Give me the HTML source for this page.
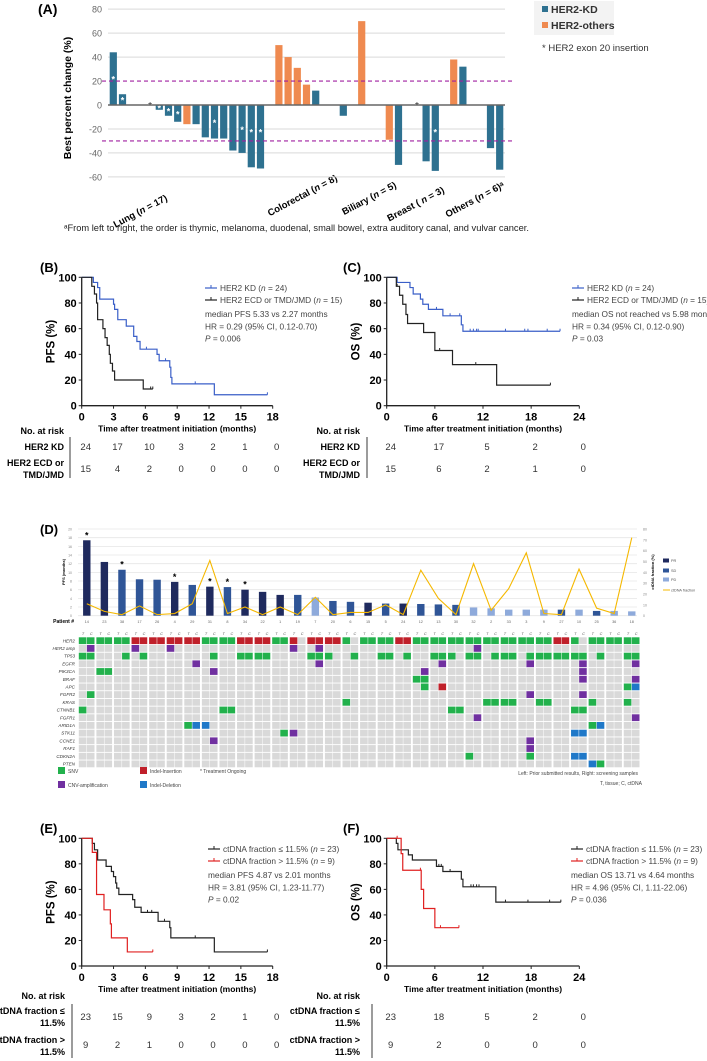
<!DOCTYPE html>
<html><head><meta charset="utf-8"><style>
body{margin:0;background:#fff}
svg{display:block;font-family:"Liberation Sans",sans-serif}
</style></head><body>
<svg id="root" width="707" height="1061" viewBox="0 0 707 1061" xmlns="http://www.w3.org/2000/svg">
<text x="38" y="14" font-size="14" font-weight="bold">(A)</text>
<text transform="translate(71,98) rotate(-90)" text-anchor="middle" font-size="10.5" font-weight="bold">Best percent change (%)</text>
<g>
<rect x="534" y="1" width="80" height="34" fill="#f3f3f3"/>
<rect x="542" y="6" width="6" height="6" fill="#2e7190"/>
<text x="551" y="13" font-size="10.5" font-weight="bold" fill="#333">HER2-KD</text>
<rect x="542" y="22" width="6" height="6" fill="#ef8a50"/>
<text x="551" y="29" font-size="10.5" font-weight="bold" fill="#333">HER2-others</text>
<text x="542" y="51" font-size="9.5" fill="#333">* HER2 exon 20 insertion</text>
</g>
<g font-size="9.5" font-weight="bold" text-anchor="end">
<text transform="translate(168,200) rotate(-28)">Lung  (<tspan font-style="italic">n</tspan> = 17)</text>
<text transform="translate(338,180) rotate(-28)">Colorectal  (<tspan font-style="italic">n</tspan> = 8)</text>
<text transform="translate(397,187) rotate(-28)">Biliary (<tspan font-style="italic">n</tspan> = 5)</text>
<text transform="translate(445,192) rotate(-28)">Breast ( <tspan font-style="italic">n</tspan> = 3)</text>
<text transform="translate(505,187) rotate(-28)">Others (<tspan font-style="italic">n</tspan> = 6)ᵃ</text>
</g>
<text x="64" y="231" font-size="9.3" fill="#222">ᵃFrom left to right, the order is thymic, melanoma, duodenal, small bowel, extra auditory canal, and vulvar cancer.</text>

<text x="40" y="272" font-size="13" font-weight="bold">(B)</text>
<text x="343" y="272" font-size="13" font-weight="bold">(C)</text>
<text x="40" y="534" font-size="13" font-weight="bold">(D)</text>
<text x="40" y="833" font-size="13" font-weight="bold">(E)</text>
<text x="343" y="833" font-size="13" font-weight="bold">(F)</text>
<g id="dyn"></g>
</svg>
<script>
// ---------- Panel A data ----------
const aIndex = [0,1,4,5,6,7,8,9,10,11,12,13,14,15,16,18,19,20,21,22,25,27,30,31,33,34,35,37,38,41,42];
const aValues = [44,9,0,-4,-9,-14,-16,-16,-27,-28,-28,-38,-40,-52,-53,50,40,31,17,12,-9,70,-29,-50,0,-47,-55,38,32,-36,-54];
const aType = ['kd','kd','ast','kd','kd','kd','ot','kd','kd','kd','kd','kd','kd','kd','kd','ot','ot','ot','ot','kd','kd','ot','ot','kd','ast','kd','kd','ot','kd','kd','kd'];
const aStar = [1,1,0,1,1,1,0,0,0,1,0,0,1,1,1,0,0,0,0,0,0,0,0,0,0,0,1,0,0,0,0];
const aTicks = [80,60,40,20,0,-20,-40,-60];
// ---------- Panel D data ----------
const dPatients = [14,23,38,17,26,4,29,31,8,34,22,1,19,7,20,6,15,5,24,12,13,30,32,2,33,3,9,27,10,25,36,18];
const dPFS = [17.4,12.4,10.6,8.4,8.3,7.8,7.1,6.7,6.6,6.0,5.5,4.8,4.8,4.2,3.4,3.2,3.0,2.8,2.8,2.7,2.6,2.5,1.9,1.7,1.4,1.4,1.4,1.4,1.4,1.1,1.1,1.0];
const dResp = ['PR','PR','SD','SD','SD','PR','SD','PR','SD','PR','PR','PR','SD','PD','SD','SD','PR','SD','PR','SD','SD','SD','PD','PD','PD','PD','PD','SD','PD','SD','PD','PD'];
const dOngoing = [1,0,1,0,0,1,0,1,1,1,0,0,0,0,0,0,0,0,0,0,0,0,0,0,0,0,0,0,0,0,0,0];
const dCtDNA = [11,4,1,9,1,2,11,51,2,8,1,8,1,17,1,3,3,10,1,42,16,1,48,5,25,58,2,1,43,7,2,72];
const dLeftTicks = [0,2,4,6,8,10,12,14,16,18,20];
const dRightTicks = [0,10,20,30,40,50,60,70,80];
const genes = ['HER2','HER2 amp','TP53','EGFR','PIK3CA','BRAF','APC','FGFR2','KRAS','CTNNB1','FGFR1','ARID1A','STK11','CCNE1','RAF1','CDKN2A','PTEN'];
const her2Row = 'SS SS SS II II II II SS SS II II SS I- II II S- SS SS II SS SS SS SS SS SS SS SS II S- SS SS SS';
const mutations = [
 [],
 ['1A','6A','10A','24A','27A','45A'],
 ['0S','1S','5S','7S','15S','18S','19S','20S','21S','26S','27S','28S','31S','34S','35S','37S','40S','41S','42S','44S','45S','47S','48S','49S','51S','52S','53S','54S','55S','56S','57S','59S','62S','63S'],
 ['13A','27A','41A','51A','57A','63A'],
 ['2S','3S','15A','39A','57A'],
 ['38S','39S','57A','63A'],
 ['39S','41I','62S','63D'],
 ['1S','51A','57A'],
 ['30S','46S','47S','48S','49S','52S','53S','58S','62S'],
 ['0S','16S','17S','42S','43S','56S','57S'],
 ['45A','63A'],
 ['12S','13D','14D','58S','59D'],
 ['23S','24A','56D','57D'],
 ['15A','51A'],
 ['51A'],
 ['44S','51S','56D','57D'],
 ['58D','59S']
];
// ---------- KM data ----------
const bKdT=[1.1,1.5,1.7,3.0,3.1,3.4,4.2,4.9,5.2,5.5,7.1,7.3,8.3,8.4,8.5,12.5];
const bKdS=[96,92,83,79,75,67,62,54,50,44,40,35,30,22,17,8.5];
const bKdC=[6.1,7.9,10.7,17.5];
const bEcdT=[0.95,1.2,1.4,1.5,2.0,2.2,2.4,2.6,2.7,2.9,3.1,5.8];
const bEcdS=[93,87,80,67,60,53,47,40,33,27,20,13];
const bEcdC=[6.5,6.7];
const cKdT=[1.3,2.9,3.3,4.2,4.5,5.2,7.0,9.3,9.5];
const cKdS=[96,92,87,83,79,75,70,63,58];
const cKdC=[6.2,7.9,9.1,10.4,10.8,11.2,11.4,14.8,17.2,17.6,20.0,21.6];
const cEcdT=[1.2,1.6,2.0,2.4,2.6,4.6,6.0,8.2,13.7];
const cEcdS=[93,86,79,71,64,57,43,32,16];
const cEcdC=[1.3,6.6,11.1,20.4];
const eLoT=[1.0,1.2,1.5,2.3,2.8,3.0,3.2,3.3,3.5,4.8,5.0,5.6,7.2,8.3,8.4,12.5];
const eLoS=[96,91,83,78,74,70,65,61,56,52,46,42,35,30,22,11];
const eLoC=[6.2,6.6,7.8,10.7,17.5];
const eHiT=[1.0,1.4,2.1,2.7,2.8,4.3];
const eHiS=[89,56,44,33,22,11];
const eHiC=[6.7];
const fLoT=[1.2,1.4,2.7,3.2,6.2,7.0,9.3,9.5,13.6];
const fLoS=[96,91,87,83,78,74,68,62,50];
const fLoC=[6.5,6.8,7.9,10.5,10.8,11.2,11.5,14.8,17.6,20.3,21.7];
const fHiT=[1.8,2.0,4.3,4.6,6.0];
const fHiS=[88,75,60,45,30];
const fHiC=[1.3,4.2,6.7,9.0];
const riskB=[[24,17,10,3,2,1,0],[15,4,2,0,0,0,0]];
const riskC=[[24,17,5,2,0],[15,6,2,1,0]];
const riskE=[[23,15,9,3,2,1,0],[9,2,1,0,0,0,0]];
const riskF=[[23,18,5,2,0],[9,2,0,0,0]];

const NS='http://www.w3.org/2000/svg';
const root=document.getElementById('dyn');
function mk(tag,attrs,parent){const e=document.createElementNS(NS,tag);for(const k in attrs)e.setAttribute(k,attrs[k]);(parent||root).appendChild(e);return e;}
function txt(s,attrs,parent){const e=mk('text',attrs,parent);e.textContent=s;return e;}

// ===== Panel A =====
const ax=i=>113.3+i*9.2, ay=v=>105-v*1.198;
const gA=mk('g',{});


aTicks.forEach(t=>{
  if(t!==20&&t!==0){const l=mk('line',{x1:108,x2:505,y1:ay(t),y2:ay(t),stroke:'#d9d9d9','stroke-width':1},gA);
  
  }
  const tl=txt(String(t),{x:102,y:ay(t)+3.5,'font-size':9,'text-anchor':'end',fill:'#666'},gA);
  
  
});
aIndex.forEach((idx,k)=>{
  const v=aValues[k],x=ax(idx);
  if(aType[k]==='ast'){const s=txt('*',{x:x,y:ay(0)+4,'font-size':10,'text-anchor':'middle',fill:'#222'},gA);
    
    return;}
  const r=mk('rect',{x:x-3.6,y:Math.min(ay(v),ay(0)),width:7.2,height:Math.abs(ay(v)-ay(0)),fill:aType[k]==='kd'?'#2e7190':'#ef8a50'},gA);
  
  
  if(aStar[k]){const sv=v>0?v/2:Math.max(v/2,-22);
    const s=txt('*',{x:x,y:ay(sv)+4,'font-size':9,'text-anchor':'middle',fill:'#fff','font-weight':'bold'},gA);
    
    }
});
let l0=mk('line',{x1:108,x2:505,y1:ay(0),y2:ay(0),stroke:'#666','stroke-width':1.5},gA);


[20,-30].forEach(t=>{const l=mk('line',{x1:102,x2:515,y1:ay(t),y2:ay(t),stroke:'#a020a0','stroke-width':1.2,'stroke-dasharray':'4,3'},gA);
  
  });

// ===== KM panels =====
function kmPanel(o){
  const g=mk('g',{});
  
  
  const X=t=>o.x0+t*o.xs, Y=s=>o.y0-s*o.ys;
  const ax1=mk('path',{d:`M${o.x0},${Y(100)}V${o.y0}H${X(o.tmax)}`,fill:'none',stroke:'#222','stroke-width':1.3},g);
  
  
  [0,20,40,60,80,100].forEach(s=>{mk('line',{x1:o.x0-3,x2:o.x0,y1:Y(s),y2:Y(s),stroke:'#222'},g);
    const t=txt(String(s),{x:o.x0-5,y:Y(s)+4,'font-size':11,'font-weight':'bold','text-anchor':'end'},g);
    
    });
  o.xt.forEach(t=>{mk('line',{x1:X(t),x2:X(t),y1:o.y0,y2:o.y0+3,stroke:'#222'},g);
    const e=txt(String(t),{x:X(t),y:o.y0+15,'font-size':11,'font-weight':'bold','text-anchor':'middle'},g);
    
    });
  const xl=txt('Time after treatment initiation (months)',{x:(X(0)+X(o.tmax))/2,y:o.y0+26,'font-size':8.5,'font-weight':'bold','text-anchor':'middle'},g);
  
  
  const yl=txt(o.ylab,{transform:`translate(${o.x0-27},${Y(50)}) rotate(-90)`,'font-size':11.5,'font-weight':'bold','text-anchor':'middle'},g);
  
  
  o.series.forEach(sr=>{
    let d=`M${X(0)},${Y(100)}`;
    sr.t.forEach((t,i)=>{d+=`H${X(t)}V${Y(sr.s[i])}`;});
    const tend=Math.max(...sr.c,sr.t[sr.t.length-1]);
    d+=`H${X(tend)}`;
    const p=mk('path',{d:d,fill:'none',stroke:sr.col,'stroke-width':1.2},g);
    
    
    sr.c.forEach(c=>{let sv=100;sr.t.forEach((t,i)=>{if(t<=c)sv=sr.s[i];});
      const cm=mk('line',{x1:X(c),x2:X(c),y1:Y(sv)-2.5,y2:Y(sv),stroke:sr.col,'stroke-width':1},g);
      
      });
  });
  o.leg.forEach((lg,i)=>{const y=o.ly+i*12;
    mk('line',{x1:o.lx,x2:o.lx+12,y1:y-3,y2:y-3,stroke:lg[1],'stroke-width':1.2},g);
    mk('line',{x1:o.lx+6,x2:o.lx+6,y1:y-6,y2:y-3,stroke:lg[1],'stroke-width':1},g);
    const e=mk('text',{x:o.lx+15,y:y,'font-size':8.3,fill:'#444'},g);
    e.innerHTML=lg[0];
    
    });
  o.stats.forEach((s,i)=>{const e=mk('text',{x:o.lx,y:o.ly+26+i*12.3,'font-size':8.3,fill:'#444'},g);
    e.innerHTML=s;
    
    });
  const rt=o.rt;
  const h=txt('No. at risk',{x:rt.lr,y:rt.hy,'font-size':9,'font-weight':'bold','text-anchor':'end'},g);
  
  
  rt.labels.forEach((lab,r)=>{lab.forEach((ln,j)=>{const e=txt(ln,{x:rt.lr,y:rt.lab[r][j],'font-size':9,'font-weight':'bold','text-anchor':'end'},g);
      
      });
    o.risk[r].forEach((v,k)=>{const e=txt(String(v),{x:X(o.xt[k])+4,y:rt.vy[r],'font-size':9.5,'text-anchor':'middle',fill:'#333'},g);
      
      });});
  mk('line',{x1:rt.lx,x2:rt.lx,y1:rt.l1,y2:rt.l2,stroke:'#666','stroke-width':1.3},g);
}
const HER2lab=[['HER2 KD'],['HER2 ECD or','TMD/JMD']];
const ctLab=[['ctDNA fraction ≤','11.5%'],['ctDNA fraction >','11.5%']];
const legB=[['HER2 KD (<tspan font-style="italic">n</tspan> = 24)','#3a5fc8'],['HER2 ECD or TMD/JMD (<tspan font-style="italic">n</tspan> = 15)','#222']];
const legE=[['ctDNA fraction ≤ 11.5% (<tspan font-style="italic">n</tspan> = 23)','#222'],['ctDNA fraction &gt; 11.5% (<tspan font-style="italic">n</tspan> = 9)','#e02020']];
kmPanel({name:'panel-b-pfs-km',x0:81.7,xs:191/18,y0:405.7,ys:1.284,tmax:18,xt:[0,3,6,9,12,15,18],ylab:'PFS (%)',
  series:[{t:bKdT,s:bKdS,c:bKdC,col:'#3a5fc8'},{t:bEcdT,s:bEcdS,c:bEcdC,col:'#222'}],
  leg:legB,lx:205,ly:291,stats:['median PFS 5.33 vs 2.27 months','HR = 0.29 (95% CI, 0.12-0.70)','<tspan font-style="italic">P</tspan> = 0.006'],
  risk:riskB,rt:{lr:64,hy:434,labels:HER2lab,lab:[[450],[466,478]],vy:[450,472],lx:70,l1:437,l2:478}});
kmPanel({name:'panel-c-os-km',x0:386.7,xs:192.6/24,y0:405.7,ys:1.284,tmax:24,xt:[0,6,12,18,24],ylab:'OS (%)',
  series:[{t:cKdT,s:cKdS,c:cKdC,col:'#3a5fc8'},{t:cEcdT,s:cEcdS,c:cEcdC,col:'#222'}],
  leg:legB,lx:572,ly:291,stats:['median OS not reached vs 5.98 months','HR = 0.34 (95% CI, 0.12-0.90)','<tspan font-style="italic">P</tspan> = 0.03'],
  risk:riskC,rt:{lr:360,hy:434,labels:HER2lab,lab:[[450],[466,478]],vy:[450,472],lx:367,l1:437,l2:478}});
kmPanel({name:'panel-e-pfs-ctdna-km',x0:81.7,xs:191/18,y0:966,ys:1.277,tmax:18,xt:[0,3,6,9,12,15,18],ylab:'PFS (%)',
  series:[{t:eLoT,s:eLoS,c:eLoC,col:'#222'},{t:eHiT,s:eHiS,c:eHiC,col:'#e02020'}],
  leg:legE,lx:208,ly:852,stats:['median PFS 4.87 vs 2.01 months','HR = 3.81 (95% CI, 1.23-11.77)','<tspan font-style="italic">P</tspan> = 0.02'],
  risk:riskE,rt:{lr:65,hy:999,labels:ctLab,lab:[[1014,1026],[1043,1055]],vy:[1020,1048],lx:72,l1:1004,l2:1058}});
kmPanel({name:'panel-f-os-ctdna-km',x0:386.7,xs:192.6/24,y0:966,ys:1.277,tmax:24,xt:[0,6,12,18,24],ylab:'OS (%)',
  series:[{t:fLoT,s:fLoS,c:fLoC,col:'#222'},{t:fHiT,s:fHiS,c:fHiC,col:'#e02020'}],
  leg:legE,lx:571,ly:852,stats:['median OS 13.71 vs 4.64 months','HR = 4.96 (95% CI, 1.11-22.06)','<tspan font-style="italic">P</tspan> = 0.036'],
  risk:riskF,rt:{lr:360,hy:999,labels:ctLab,lab:[[1014,1026],[1043,1055]],vy:[1020,1048],lx:372,l1:1004,l2:1058}});

// ===== Panel D =====
const pw=17.58, gx0=78;
const dx=p=>gx0+p*pw+pw/2, dy=v=>615.7-v*4.335, dy2=v=>615.7-v*1.084;
const gD=mk('g',{});


dLeftTicks.forEach(t=>{const l=mk('line',{x1:gx0,x2:637,y1:dy(t),y2:dy(t),stroke:'#e6e6e6','stroke-width':0.8},gD);
  
  
  const e=txt(String(t),{x:72,y:dy(t)+1.5,'font-size':3.5,fill:'#888','text-anchor':'end'},gD);
  
  });
dRightTicks.forEach(t=>{const e=txt(String(t),{x:643,y:dy2(t)+1.5,'font-size':3.5,fill:'#888'},gD);
  
  });
let yl1=txt('PFS (months)',{transform:'translate(65,572) rotate(-90)','font-size':4,'font-weight':'bold','text-anchor':'middle'},gD);


let yl2=txt('ctDNA fraction (%)',{transform:'translate(654,572) rotate(-90)','font-size':4,'font-weight':'bold','text-anchor':'middle'},gD);


const respCol={PR:'#1f2a5e',SD:'#2f5597',PD:'#8eaadb'};
dPFS.forEach((v,p)=>{
  const r=mk('rect',{x:dx(p)-3.7,y:dy(v),width:7.4,height:dy(0)-dy(v),fill:respCol[dResp[p]]},gD);
  
  
  if(dOngoing[p]){const s=txt('*',{x:dx(p),y:dy(v)-2,'font-size':9,'font-weight':'bold','text-anchor':'middle'},gD);
    
    }
  const id=txt(String(dPatients[p]),{x:dx(p),y:623,'font-size':3.8,fill:'#666','text-anchor':'middle'},gD);
  
  
  ['T','C'].forEach((c,j)=>{const e=txt(c,{x:gx0+p*pw+1+j*8.2+4,y:635,'font-size':3.8,'font-style':'italic',fill:'#555','text-anchor':'middle'},gD);
    
    });
});
let pl=txt('Patient #',{x:74,y:623,'font-size':5,'font-weight':'bold','text-anchor':'end'},gD);


let pts=dCtDNA.map((v,p)=>dx(p)+','+dy2(v)).join(' ');
let ct=mk('polyline',{points:pts,fill:'none',stroke:'#f5b800','stroke-width':1.1},gD);


[['PR',561],['SD',571],['PD',580]].forEach(a=>{mk('rect',{x:663,y:a[1]-2.5,width:6,height:4,fill:respCol[a[0]]},gD);
  const e=txt(a[0],{x:671,y:a[1]+1,'font-size':3.8,fill:'#555'},gD);
  
  });
mk('line',{x1:663,x2:670,y1:590,y2:590,stroke:'#f5b800','stroke-width':1},gD);
let cl=txt('ctDNA fraction',{x:671,y:591.5,'font-size':3.8,fill:'#555'},gD);



const gH=mk('g',{});


const mCol={S:'#22b14c',A:'#7030a0',I:'#c0202a',D:'#1f78c8','-':'#d9d9d9'};
const rowY=r=>637.3+r*7.7;
const colX=c=>gx0+Math.floor(c/2)*pw+0.8+(c%2)*8.1;
const her2Cells=her2Row.replace(/ /g,'').split('');
genes.forEach((gname,r)=>{
  const lab=txt(gname,{x:75,y:rowY(r)+5,'font-size':4.6,'font-style':'italic','text-anchor':'end',fill:'#333'},gH);
  
  
  const m={};
  if(r===0)her2Cells.forEach((t,c)=>m[c]=t);
  else mutations[r].forEach(s=>{m[parseInt(s)]=s.slice(-1);});
  for(let c=0;c<64;c++){
    const cell=mk('rect',{x:colX(c),y:rowY(r),width:7.6,height:6.8,fill:mCol[m[c]||'-']},gH);
    
    
  }
});
[['SNV','S',58,772],['CNV-amplification','A',58,786],['Indel-Insertion','I',140,772],['Indel-Deletion','D',140,786]].forEach(a=>{
  mk('rect',{x:a[2],y:a[3]-5,width:7,height:7,fill:mCol[a[1]]},gH);
  const e=txt(a[0],{x:a[2]+10,y:a[3]+1,'font-size':5,fill:'#444'},gH);
  
  });
let tn=txt('* Treatment Ongoing',{x:200,y:773,'font-size':5,fill:'#444'},gH);


let n1=txt('Left: Prior submitted results, Right: screening samples',{x:638,y:775,'font-size':5,fill:'#444','text-anchor':'end'},gH);


let n2=txt('T, tissue; C, ctDNA',{x:600,y:785,'font-size':5,fill:'#444'},gH);


</script>
</body></html>
